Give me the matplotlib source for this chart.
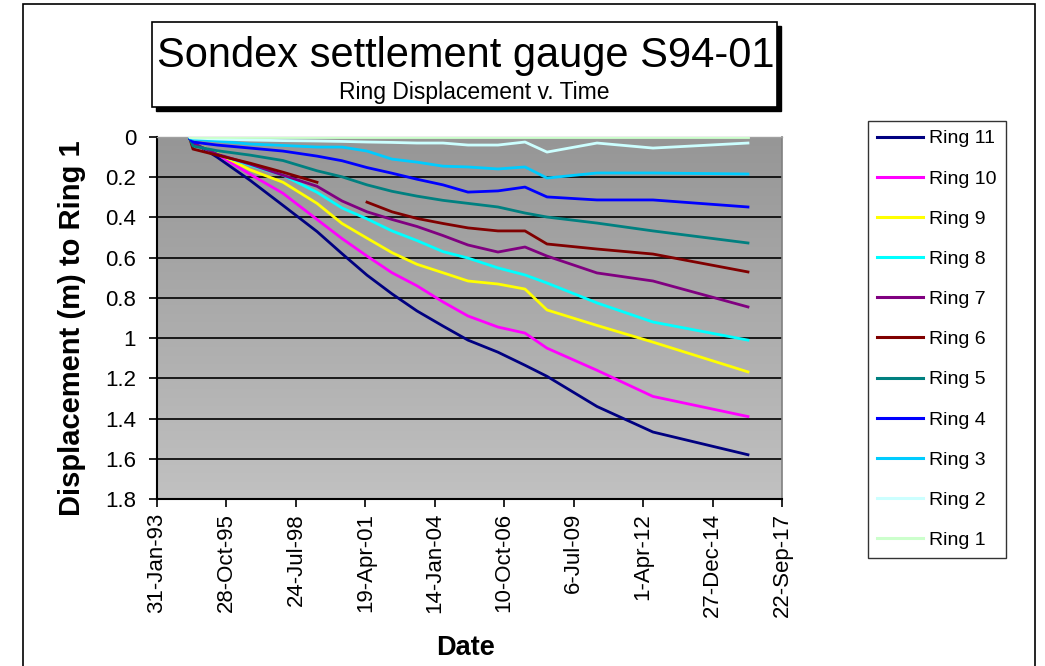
import numpy as np
import pandas as pd
import matplotlib
matplotlib.use("Agg")
import matplotlib.pyplot as plt
from matplotlib.patches import Rectangle

plt.rcParams['font.family'] = ['Liberation Sans', 'DejaVu Sans']

# ---------------- data ----------------
dates = pd.to_datetime([
    "1994-05-21", "1994-07-03", "1995-06-14", "1996-10-01", "1998-01-19",
    "1999-05-24", "2000-05-18", "2001-05-13", "2002-05-08", "2003-05-03",
    "2004-05-11", "2005-05-06", "2006-07-12", "2007-08-05", "2008-06-17",
    "2010-06-07", "2012-08-21", "2016-05-20"])

ring11 = [0.01, 0.025, 0.10, 0.215, 0.34, 0.47, 0.58, 0.687, 0.78, 0.865,
          0.94, 1.01, 1.07, 1.135, 1.19, 1.34, 1.467, 1.58]
ring10 = [0.01, 0.03, 0.085, 0.185, 0.28, 0.41, 0.505, 0.592, 0.675, 0.74,
          0.82, 0.89, 0.945, 0.975, 1.05, 1.16, 1.29, 1.39]
ring9 = [0.01, 0.03, 0.08, 0.163, 0.225, 0.33, 0.43, 0.503, 0.575, 0.633,
         0.675, 0.716, 0.731, 0.756, 0.86, 0.937, 1.02, 1.168]
ring8 = [0.01, 0.03, 0.085, 0.14, 0.19, 0.275, 0.353, 0.407, 0.467, 0.515,
         0.57, 0.602, 0.651, 0.686, 0.726, 0.825, 0.92, 1.01]
ring7 = [0.01, 0.03, 0.085, 0.135, 0.19, 0.245, 0.318, 0.372, 0.41, 0.445,
         0.49, 0.537, 0.572, 0.547, 0.592, 0.676, 0.716, 0.845]
ring6 = [0.01, 0.06, 0.09, 0.13, 0.175, 0.225, np.nan, 0.324, 0.372, 0.405,
         0.43, 0.452, 0.467, 0.467, 0.532, 0.557, 0.582, 0.671]
ring5 = [0.01, 0.045, 0.068, 0.09, 0.117, 0.168, 0.198, 0.238, 0.27, 0.294,
         0.315, 0.33, 0.348, 0.378, 0.398, 0.428, 0.467, 0.527]
ring4 = [0.01, 0.025, 0.04, 0.055, 0.07, 0.095, 0.118, 0.152, 0.18, 0.21,
         0.238, 0.274, 0.268, 0.249, 0.298, 0.313, 0.313, 0.348]
ring3 = [0.005, 0.01, 0.02, 0.035, 0.042, 0.05, 0.05, 0.07, 0.11, 0.125,
         0.145, 0.149, 0.159, 0.149, 0.204, 0.179, 0.179, 0.184]
ring2 = [0.0, 0.005, 0.01, 0.015, 0.018, 0.02, 0.022, 0.025, 0.027, 0.03,
         0.03, 0.04, 0.04, 0.025, 0.075, 0.03, 0.055, 0.03]
ring1 = [0.0] * 18

series_names = ["Ring 11", "Ring 10", "Ring 9", "Ring 8", "Ring 7", "Ring 6",
                "Ring 5", "Ring 4", "Ring 3", "Ring 2", "Ring 1"]
series_values = [ring11, ring10, ring9, ring8, ring7, ring6,
                 ring5, ring4, ring3, ring2, ring1]
series_colors = ["#000080", "#FF00FF", "#FFFF00", "#00FFFF", "#800080", "#800000",
                 "#008080", "#0000FF", "#00CCFF", "#CCFFFF", "#CCFFCC"]

x_tick_dates = pd.to_datetime([
    "1993-01-31", "1995-10-28", "1998-07-24", "2001-04-19", "2004-01-14",
    "2006-10-10", "2009-07-06", "2012-04-01", "2014-12-27", "2017-09-22"])
x_tick_labels = ["31-Jan-93", "28-Oct-95", "24-Jul-98", "19-Apr-01", "14-Jan-04",
                 "10-Oct-06", "6-Jul-09", "1-Apr-12", "27-Dec-14", "22-Sep-17"]
y_ticks = [0, 0.2, 0.4, 0.6, 0.8, 1.0, 1.2, 1.4, 1.6, 1.8]
y_tick_labels = ["0", "0.2", "0.4", "0.6", "0.8", "1", "1.2", "1.4", "1.6", "1.8"]

# ---------------- figure ----------------
W, H = 1045, 666
fig = plt.figure(figsize=(W / 100, H / 100), dpi=100)
fig.patch.set_facecolor("white")

def fx(px):
    return px / W

def fy(py):
    return 1 - py / H

# outer chart border
fig.patches.append(Rectangle((fx(23), fy(675)), fx(1035) - fx(23), fy(4) - fy(675),
                             transform=fig.transFigure, fill=False,
                             edgecolor="black", linewidth=1.2, zorder=0))

ax = fig.add_axes([fx(157), fy(499), fx(782) - fx(157), fy(137) - fy(499)])

# gradient background of plot area
grad = np.linspace(0, 1, 256).reshape(-1, 1)
top = np.array([150, 150, 150]) / 255
bot = np.array([193, 193, 193]) / 255
img = (top + (bot - top) * grad[:, :, None]).reshape(256, 1, 3)
ax.imshow(img, extent=[0, 1, 0, 1], transform=ax.transAxes, aspect="auto",
          origin="upper", zorder=0, interpolation="bilinear")

for yv in y_ticks[1:-1]:
    ax.axhline(yv, color="black", linewidth=1.2, zorder=1)

for name, vals, col in zip(series_names, series_values, series_colors):
    ax.plot(dates, vals, color=col, linewidth=2.0, label=name, zorder=3,
            solid_joinstyle="round")

ax.set_xlim(x_tick_dates[0], x_tick_dates[-1])
ax.set_ylim(1.8, 0)
ax.set_xticks(x_tick_dates)
ax.set_xticklabels(x_tick_labels, rotation=90, fontsize=16)
ax.set_yticks(y_ticks)
ax.set_yticklabels(y_tick_labels, fontsize=16)
ax.tick_params(axis="both", direction="out", length=6, width=1.2, color="black")
ax.tick_params(axis="y", pad=9)
ax.tick_params(axis="x", pad=4)

for s in ["left", "bottom"]:
    ax.spines[s].set_color("black")
    ax.spines[s].set_linewidth(1.5)
ax.spines["top"].set_color("#a0a0a0")
ax.spines["top"].set_linewidth(1.0)
ax.spines["right"].set_color("#808080")
ax.spines["right"].set_linewidth(1.2)
ax.axhline(0, color="black", linewidth=1.2, zorder=1)

ax.set_ylabel("Displacement (m) to Ring 1", fontsize=21, fontweight="bold")
ax.yaxis.set_label_coords(-0.113, 0.472)
fig.text(fx(466), fy(648), "Date", fontsize=19.5, fontweight="bold",
         ha="center", va="center")

# legend
leg = fig.legend(loc="upper left", bbox_to_anchor=(fx(868), fy(121)),
                 bbox_transform=fig.transFigure, frameon=True, fancybox=False,
                 edgecolor="black", fontsize=14, labelspacing=1.16,
                 handlelength=2.4, handletextpad=0.3, borderpad=0.45,
                 borderaxespad=0)
leg.get_frame().set_linewidth(1.0)
for line in leg.get_lines():
    line.set_linewidth(2.2)

# title box with shadow
bx0, by0, bx1, by1 = 152, 22, 777, 107
fig.patches.append(Rectangle((fx(bx0 + 4), fy(by1 + 4)), fx(bx1) - fx(bx0), fy(by0) - fy(by1),
                             transform=fig.transFigure, facecolor="black",
                             edgecolor="black", zorder=5))
fig.patches.append(Rectangle((fx(bx0), fy(by1)), fx(bx1) - fx(bx0), fy(by0) - fy(by1),
                             transform=fig.transFigure, facecolor="white",
                             edgecolor="black", linewidth=1.2, zorder=6))
fig.text(fx(466), fy(56), "Sondex settlement gauge S94-01", fontsize=30,
         ha="center", va="center", zorder=7)
fig.text(fx(474), fy(93), "Ring Displacement v. Time", fontsize=16.5,
         ha="center", va="center", zorder=7)

fig.savefig("out.png", dpi=100)
